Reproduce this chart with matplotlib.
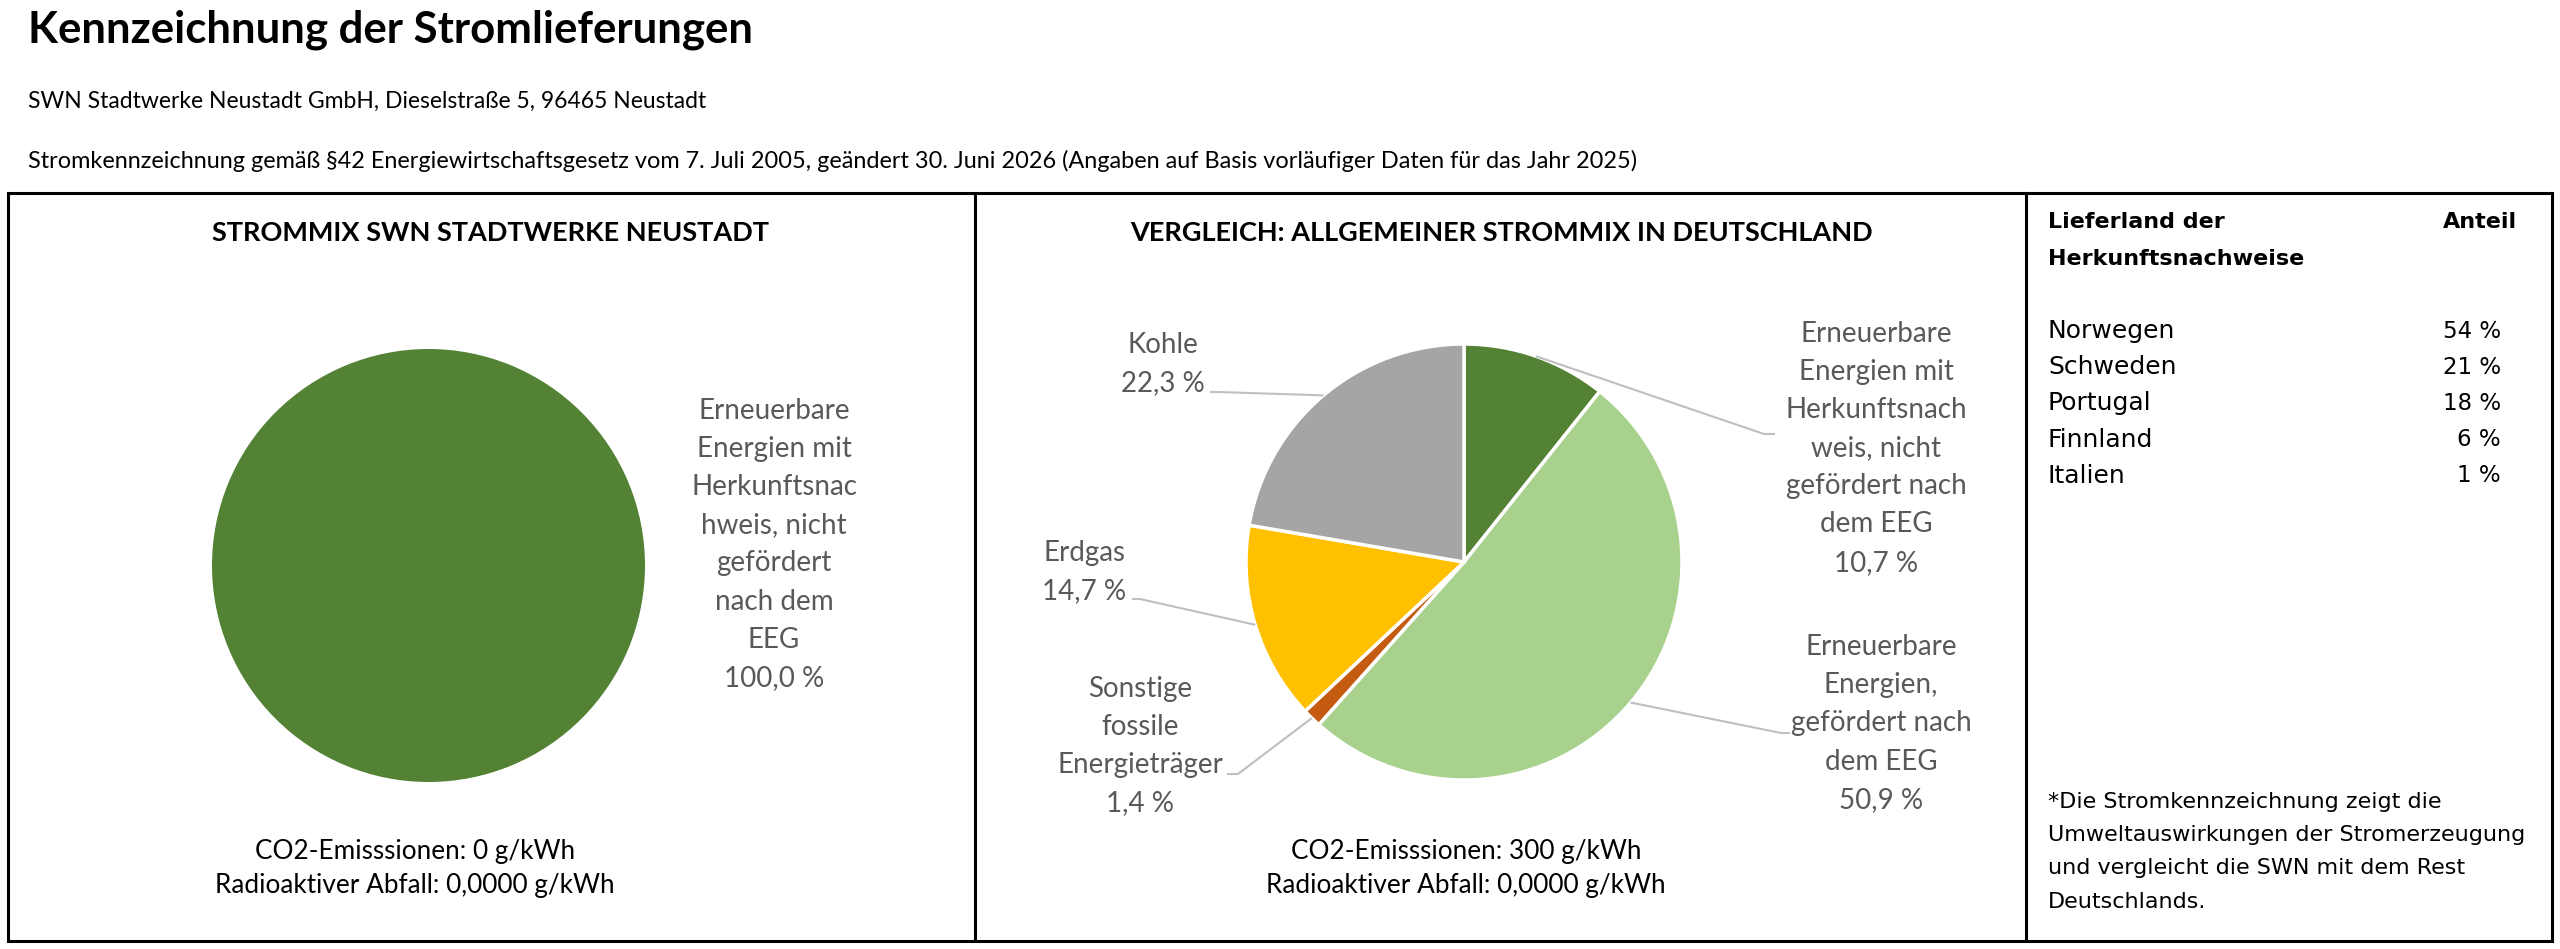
import numpy as np
import matplotlib
matplotlib.use("Agg")
import matplotlib.pyplot as plt
from matplotlib.patches import Rectangle

plt.rcParams['font.family'] = ['Lato', 'DejaVu Sans']

# --- data ---
swn_labels = ["Erneuerbare Energien mit Herkunftsnachweis, nicht gefördert nach dem EEG"]
swn_values = [100.0]
swn_colors = ["#548235"]

de_labels = ["Erneuerbare Energien mit Herkunftsnachweis, nicht gefördert nach dem EEG",
             "Erneuerbare Energien, gefördert nach dem EEG",
             "Sonstige fossile Energieträger",
             "Erdgas",
             "Kohle"]
de_values = [10.7, 50.9, 1.4, 14.7, 22.3]
de_colors = ["#548235", "#A9D18E", "#C55A11", "#FFC000", "#A5A5A5"]

# label line breaks as in the original chart
swn_label_lines = [["Erneuerbare", "Energien mit", "Herkunftsnac", "hweis, nicht",
                    "gefördert", "nach dem", "EEG"]]
de_label_lines = [["Erneuerbare", "Energien mit", "Herkunftsnach", "weis, nicht",
                   "gefördert nach", "dem EEG"],
                  ["Erneuerbare", "Energien,", "gefördert nach", "dem EEG"],
                  ["Sonstige", "fossile", "Energieträger"],
                  ["Erdgas"],
                  ["Kohle"]]

co2 = {"swn": 0, "de": 300}
waste = {"swn": "0,0000", "de": "0,0000"}

countries = ["Norwegen", "Schweden", "Portugal", "Finnland", "Italien"]
shares = [54, 21, 18, 6, 1]


def pct(v):
    return f"{v:.1f}".replace(".", ",") + " %"


W, H = 2560, 949
fig = plt.figure(figsize=(W / 100, H / 100), dpi=100)
ax = fig.add_axes([0, 0, 1, 1])


def T(x, y, s, **kw):
    # pixel coordinates, y measured from the top
    return ax.text(x, H - y, s, **kw)


label_color = "#595959"
lead_color = "#BFBFBF"
lab_size = 20
info_size = 18.8

# header texts
T(28, 30, "Kennzeichnung der Stromlieferungen", fontsize=31.5, fontweight="bold", va="center")
T(28, 101, "SWN Stadtwerke Neustadt GmbH, Dieselstraße 5, 96465 Neustadt", fontsize=16.5, va="center")
T(28, 161, "Stromkennzeichnung gemäß §42 Energiewirtschaftsgesetz vom 7. Juli 2005, geändert 30. Juni 2026 "
           "(Angaben auf Basis vorläufiger Daten für das Jahr 2025)", fontsize=16.9, va="center")

# frame
ax.add_patch(Rectangle((8, H - 941), 2544, 748, fill=False, edgecolor="black", linewidth=2.2))
for xd in (975, 2026):
    ax.plot([xd, xd], [H - 941, H - 193], color="black", linewidth=2.2)

# panel titles
T(491, 233, "STROMMIX SWN STADTWERKE NEUSTADT", fontsize=19.5, fontweight="bold", ha="center", va="center")
T(1501, 233, "VERGLEICH: ALLGEMEINER STROMMIX IN DEUTSCHLAND", fontsize=19.5, fontweight="bold",
  ha="center", va="center")

# left pie
ax.pie(swn_values, colors=swn_colors, startangle=90, counterclock=False,
       center=(428.5, H - 565.5), radius=216.5, wedgeprops=dict(linewidth=0))
lines = swn_label_lines[0] + [pct(swn_values[0])]
for i, s in enumerate(lines):
    T(774, 410.5 + i * 38.2, s, fontsize=lab_size, color=label_color, ha="center", va="center")

# right pie
cx, cy, r = 1464, 562, 218
wedges, _ = ax.pie(de_values, colors=de_colors, startangle=90, counterclock=False,
                   center=(cx, H - cy), radius=r,
                   wedgeprops=dict(edgecolor="white", linewidth=2.5))

# label block centres (x, first line y) and leader end point
label_pos = [(1876, 333.5, (1775, 434), (1764, 434)),
             (1881, 647, (1790, 733), (1781, 733)),
             (1140, 688.6, (1227, 774), (1238, 774)),
             (1084, 553, (1132, 599), (1140, 599)),
             (1163, 345, (1210, 392), (1218, 392))]
for w, val, lab, (lx, ly, end, knee) in zip(wedges, de_values, de_label_lines, label_pos):
    for i, s in enumerate(lab + [pct(val)]):
        T(lx, ly + i * 38.2, s, fontsize=lab_size, color=label_color, ha="center", va="center")
    mid = np.deg2rad((w.theta1 + w.theta2) / 2)
    px, py = cx + r * np.cos(mid), cy - r * np.sin(mid)
    ax.plot([px, knee[0], end[0]], [H - py, H - knee[1], H - end[1]],
            color=lead_color, linewidth=1.5, solid_capstyle="butt")

# emissions
T(415, 852, f"CO2-Emisssionen: {co2['swn']} g/kWh", fontsize=info_size, ha="center", va="center")
T(415, 886, f"Radioaktiver Abfall: {waste['swn']} g/kWh", fontsize=info_size, ha="center", va="center")
T(1466, 851, f"CO2-Emisssionen: {co2['de']} g/kWh", fontsize=info_size, ha="center", va="center")
T(1466, 885, f"Radioaktiver Abfall: {waste['de']} g/kWh", fontsize=info_size, ha="center", va="center")

# country table
tf = "DejaVu Sans"
T(2048, 222, "Lieferland der", family=tf, fontsize=16, fontweight="bold", va="center")
T(2048, 258.5, "Herkunftsnachweise", family=tf, fontsize=16, fontweight="bold", va="center")
T(2517, 222, "Anteil", family=tf, fontsize=16, fontweight="bold", ha="right", va="center")
for i, (c, s) in enumerate(zip(countries, shares)):
    T(2048, 331 + i * 36.2, c, family=tf, fontsize=18, va="center")
    T(2501, 331 + i * 36.2, f"{s} %", family=tf, fontsize=16.5, ha="right", va="center")

note = ["*Die Stromkennzeichnung zeigt die", "Umweltauswirkungen der Stromerzeugung",
        "und vergleicht die SWN mit dem Rest", "Deutschlands."]
for i, s in enumerate(note):
    T(2048, 802 + i * 33.2, s, family=tf, fontsize=16, va="center")

ax.set_xlim(0, W)
ax.set_ylim(0, H)
ax.set_aspect("auto")
ax.axis("off")

fig.savefig("out.png", dpi=100, facecolor="white")
